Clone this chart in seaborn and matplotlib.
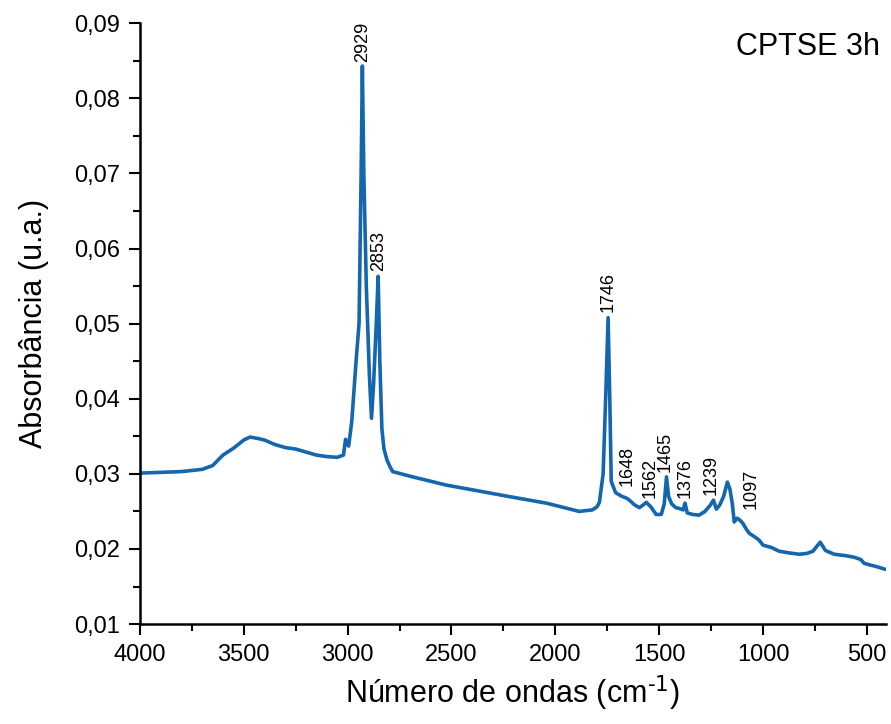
import matplotlib
matplotlib.use("Agg")
import matplotlib.pyplot as plt
from matplotlib.ticker import MultipleLocator, FuncFormatter
import seaborn as sns

# spectrum (wavenumber in cm-1, absorbance)
wavenumber = [4000, 3900, 3800, 3700, 3650, 3600, 3550, 3500, 3470, 3430,
              3400, 3350, 3300, 3250, 3200, 3150, 3100, 3050, 3020, 3010,
              2995, 2980, 2965, 2957, 2945, 2935, 2929, 2922, 2910, 2895,
              2885, 2875, 2862, 2853, 2845, 2835, 2825, 2810, 2795, 2783,
              2687, 2524, 2365, 2207, 2043, 1885, 1822, 1800, 1788, 1770,
              1758, 1746, 1738, 1731, 1710, 1680, 1660, 1648, 1620, 1596,
              1580, 1562, 1540, 1515, 1490, 1476, 1465, 1455, 1440, 1420,
              1404, 1385, 1376, 1365, 1340, 1308, 1280, 1255, 1239, 1225,
              1210, 1190, 1172, 1160, 1148, 1139, 1125, 1110, 1097, 1080,
              1067, 1040, 1020, 1000, 960, 923, 880, 827, 790, 760,
              740, 725, 700, 658, 600, 562, 530, 514, 490, 460, 413]
absorbance = [0.0301, 0.0302, 0.0303, 0.0306, 0.0311, 0.0325, 0.0334, 0.0345, 0.0349, 0.0347,
              0.0345, 0.0339, 0.0335, 0.0333, 0.0329, 0.0325, 0.0323, 0.0322, 0.0325, 0.0346,
              0.0337, 0.0370, 0.0428, 0.0458, 0.0500, 0.0700, 0.0843, 0.0700, 0.0550, 0.0430,
              0.0374, 0.0420, 0.0500, 0.0563, 0.0450, 0.0360, 0.0333, 0.0318, 0.0309, 0.0303,
              0.0296, 0.0285, 0.0277, 0.0269, 0.0261, 0.0250, 0.0252, 0.0256, 0.0262, 0.0300,
              0.0400, 0.0508, 0.0400, 0.0290, 0.0275, 0.0270, 0.0268, 0.0266, 0.0259, 0.0255,
              0.0258, 0.0262, 0.0256, 0.0246, 0.0246, 0.0260, 0.0296, 0.0270, 0.0260, 0.0255,
              0.0254, 0.0252, 0.0261, 0.0248, 0.0246, 0.0245, 0.0250, 0.0258, 0.0265, 0.0253,
              0.0258, 0.0270, 0.0289, 0.0280, 0.0260, 0.0236, 0.0241, 0.0238, 0.0234, 0.0226,
              0.0221, 0.0216, 0.0212, 0.0205, 0.0202, 0.0197, 0.0195, 0.0193, 0.0194, 0.0197,
              0.0204, 0.0209, 0.0198, 0.0193, 0.0191, 0.0189, 0.0186, 0.0181, 0.0179, 0.0177, 0.0173]

# peak annotations
peak_labels = ["2929", "2853", "1746", "1648", "1562", "1465", "1376", "1239", "1097"]
peak_label_x = [2929, 2853, 1746, 1654, 1543, 1471, 1375, 1250, 1058]
peak_label_y = [0.0848, 0.0570, 0.0515, 0.0284, 0.0268, 0.0303, 0.0268, 0.0272, 0.0253]

sns.set_style("ticks")
plt.rcParams["font.family"] = ["Liberation Sans", "DejaVu Sans"]
plt.rcParams["mathtext.default"] = "regular"
plt.rcParams["text.color"] = "black"
plt.rcParams["axes.labelcolor"] = "black"

fig = plt.figure(figsize=(8.91, 7.24), dpi=100)
ax = fig.add_axes([0.157, 0.138, 0.837, 0.830])

sns.lineplot(x=wavenumber, y=absorbance, sort=False, ax=ax,
             color="#1466ae", linewidth=2.6)

for txt, px, py in zip(peak_labels, peak_label_x, peak_label_y):
    ax.text(px, py, txt, rotation=90, ha="center", va="bottom", fontsize=13)

ax.text(0.992, 0.985, "CPTSE 3h", transform=ax.transAxes, ha="right", va="top",
        fontsize=22)

ax.set_xlim(4000, 410)
ax.set_ylim(0.01, 0.09)
ax.xaxis.set_major_locator(MultipleLocator(500))
ax.xaxis.set_minor_locator(MultipleLocator(250))
ax.yaxis.set_major_locator(MultipleLocator(0.01))
ax.yaxis.set_minor_locator(MultipleLocator(0.005))
ax.yaxis.set_major_formatter(FuncFormatter(lambda v, p: f"{v:.2f}".replace(".", ",")))

ax.tick_params(which="major", direction="out", length=8, width=1.5, pad=6,
               labelsize=17, colors="black")
ax.tick_params(which="minor", direction="out", length=5, width=1.5, colors="black")
sns.despine(ax=ax)
for s in ["left", "bottom"]:
    ax.spines[s].set_linewidth(1.8)
    ax.spines[s].set_color("black")

ax.set_xlabel(r"Número de ondas (cm$^{\text{-1}}$)", fontsize=22, labelpad=6)
ax.set_ylabel("Absorbância (u.a.)", fontsize=22, labelpad=18)

fig.savefig("out.png", dpi=100)
plt.close(fig)
